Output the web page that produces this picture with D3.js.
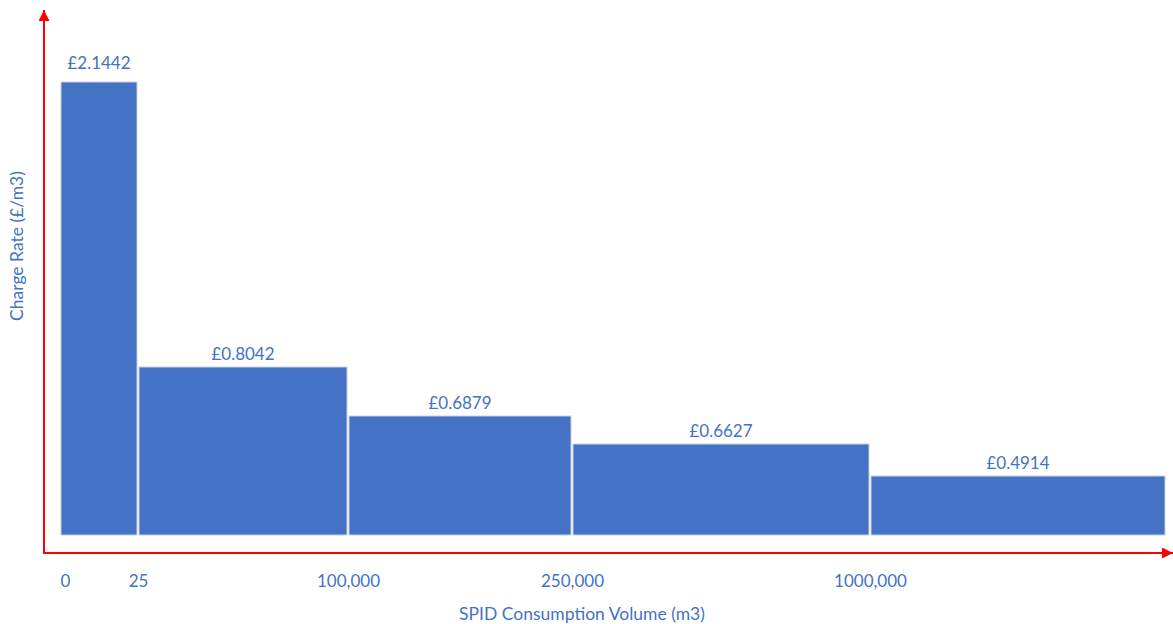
<!DOCTYPE html>
<html>
<head>
<meta charset="utf-8">
<script src="https://cdn.jsdelivr.net/npm/d3@7"></script>
<style>
  body { margin: 0; background: #fff; }
  text { font-family: Lato, "Open Sans", sans-serif; fill: #4472C4; }
</style>
</head>
<body>
<script>
// tariff bands (m3) and their charge rates
var bands = ["0-25", "25-100,000", "100,000-250,000", "250,000-1000,000", "1000,000+"]
var rates = [2.1442, 0.8042, 0.6879, 0.6627, 0.4914]
var boundaryLabels = ["0", "25", "100,000", "250,000", "1000,000"]

var width = 1173,
    height = 624;

var svg = d3.select("body")
    .append("svg")
    .attr("width", width)
    .attr("height", height);

// x: band boundaries are not to scale, so map boundary index -> pixel
var x = d3.scaleLinear()
    .domain([0, 1, 2, 3, 4, 5])
    .range([60, 138, 348, 572, 870, 1166]);

// y: diagram is not proportional either, piecewise scale through the values
var yDomain = [0].concat(rates.slice().sort(d3.ascending))
var y = d3.scaleLinear()
    .domain(yDomain)
    .range([535, 476, 444, 416, 367, 82]);

var defs = svg.append("defs")
defs.append("marker")
    .attr("id", "arrow")
    .attr("viewBox", "0 0 10 10")
    .attr("refX", 10).attr("refY", 5)
    .attr("markerWidth", 11).attr("markerHeight", 11)
    .attr("markerUnits", "userSpaceOnUse")
    .attr("orient", "auto")
    .append("path")
    .attr("d", "M0,0L10,5L0,10Z")
    .attr("fill", "#ff0000");

svg.append("g")
    .selectAll("rect")
    .data(rates)
    .enter().append("rect")
    .attr("x", function(d, i){ return x(i) + 1 })
    .attr("y", function(d){ return y(d) })
    .attr("width", function(d, i){ return x(i + 1) - x(i) - 2 })
    .attr("height", function(d){ return y(0) - y(d) })
    .attr("fill", "#4472C4")
    .attr("stroke", "#c9d0de")
    .attr("stroke-width", 1)
    .append("title").text(function(d, i){ return bands[i] });

svg.append("g")
    .selectAll("text")
    .data(rates)
    .enter().append("text")
    .attr("x", function(d, i){ return (x(i) + x(i + 1)) / 2 })
    .attr("y", function(d, i){ return y(d) - (i === 0 ? 13 : 7) })
    .attr("text-anchor", "middle")
    .style("font-size", "17px")
    .text(function(d){ return "£" + d.toFixed(4) });

// red axes with arrowheads
svg.append("line")
    .attr("x1", 44).attr("y1", 553)
    .attr("x2", 44).attr("y2", 10)
    .attr("stroke", "#ff0000").attr("stroke-width", 2)
    .attr("marker-end", "url(#arrow)");

svg.append("line")
    .attr("x1", 43).attr("y1", 553)
    .attr("x2", 1173).attr("y2", 553)
    .attr("stroke", "#ff0000").attr("stroke-width", 2)
    .attr("marker-end", "url(#arrow)");

var xAxis = svg.append("g")
    .attr("transform", "translate(0,553)")
    .call(d3.axisBottom(x)
        .tickValues(d3.range(boundaryLabels.length))
        .tickSize(0)
        .tickPadding(22)
        .tickFormat(function(d){ return boundaryLabels[d] }));

xAxis.select(".domain").remove();
xAxis.selectAll("text")
    .attr("fill", null)
    .style("font-size", "17px")
    .style("font-family", null);
xAxis.selectAll(".tick").filter(function(d){ return d === 0 })
    .select("text").attr("text-anchor", "start");

svg.append("text")
    .attr("x", 582).attr("y", 620)
    .attr("text-anchor", "middle")
    .style("font-size", "17.5px")
    .text("SPID Consumption Volume (m3)");

svg.append("text")
    .attr("transform", "translate(23,246) rotate(-90)")
    .attr("text-anchor", "middle")
    .style("font-size", "17.5px")
    .text("Charge Rate (£/m3)");
</script>
</body>
</html>
